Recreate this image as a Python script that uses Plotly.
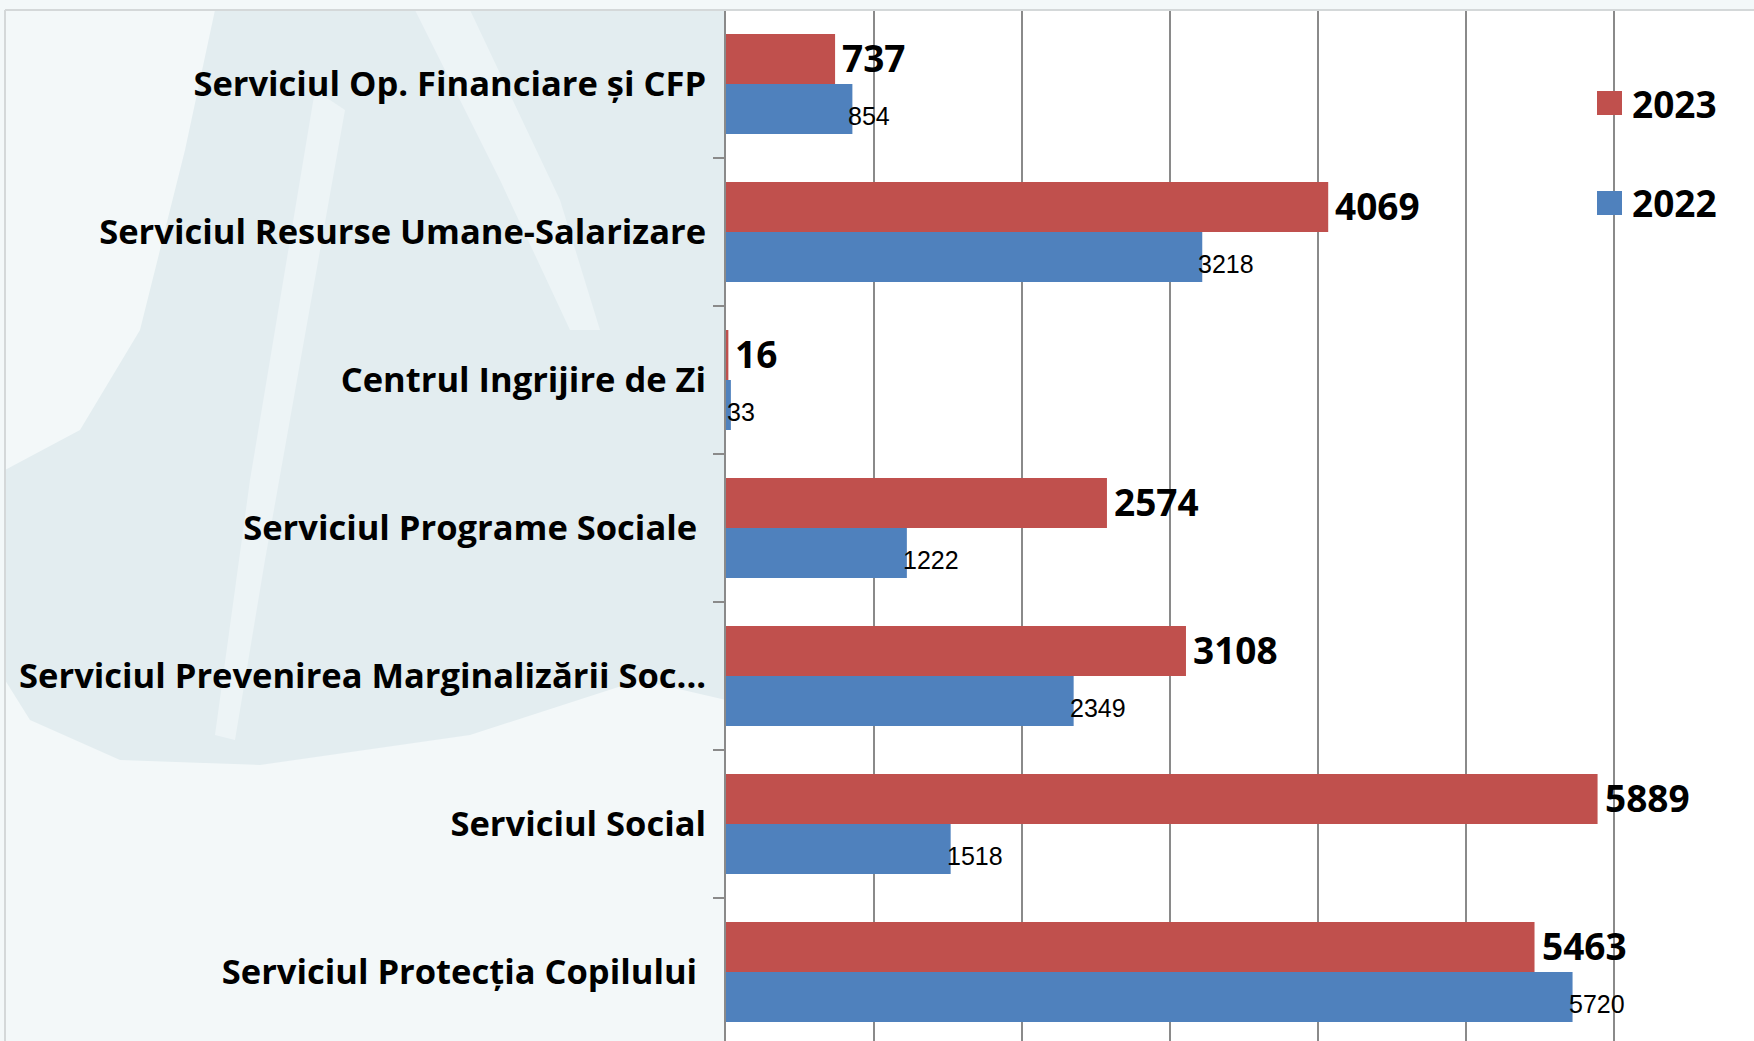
import plotly.graph_objects as go

categories = [
    "Serviciul Op. Financiare și CFP",
    "Serviciul Resurse Umane-Salarizare",
    "Centrul Ingrijire de Zi",
    "Serviciul Programe Sociale\u00a0",
    "Serviciul Prevenirea Marginalizării Soc...",
    "Serviciul Social",
    "Serviciul Protecția Copilului\u00a0",
]
values_2023 = [737, 4069, 16, 2574, 3108, 5889, 5463]
values_2022 = [854, 3218, 33, 1222, 2349, 1518, 5720]
series_names = ["2023", "2022"]

RED = "#C0504D"
BLUE = "#4F81BD"
GRID = "#8a8a8a"

W, H = 1754, 1041
L, R, T, B = 726, 0, 10, 0
PW, PH = W - L - R, H - T - B


def px_x(x):
    return (x - L) / PW


def px_y(y):
    return 1 - (y - T) / PH


def px_path(points):
    parts = []
    for i, (x, y) in enumerate(points):
        parts.append(("M" if i == 0 else "L") + f"{px_x(x):.5f},{px_y(y):.5f}")
    return " ".join(parts) + " Z"


fig = go.Figure()
fig.add_trace(go.Bar(
    y=categories, x=values_2023, name=series_names[0], orientation="h",
    marker=dict(color=RED, line=dict(width=0)), showlegend=False, hoverinfo="skip",
))
fig.add_trace(go.Bar(
    y=categories, x=values_2022, name=series_names[1], orientation="h",
    marker=dict(color=BLUE, line=dict(width=0)), showlegend=False, hoverinfo="skip",
))

annotations = []
for c, v in zip(categories, values_2023):
    annotations.append(dict(
        x=v, y=c, xref="x", yref="y", text=str(v), showarrow=False,
        xanchor="left", yanchor="middle", xshift=5, yshift=27,
        font=dict(family="Open Sans", size=37, color="black", weight="bold"),
    ))
for c, v in zip(categories, values_2022):
    annotations.append(dict(
        x=v, y=c, xref="x", yref="y", text=str(v), showarrow=False,
        xanchor="left", yanchor="middle", xshift=-6, yshift=-32,
        font=dict(family="Liberation Sans, Arial", size=25, color="black"),
    ))

shapes = []

# faint background watermark (decorative)
WM = "#e3edf0"
shapes.append(dict(type="path", xref="paper", yref="paper", layer="below",
                   path=px_path([(215, 10), (726, 10), (726, 700), (640, 680),
                                 (470, 735), (260, 765), (120, 760), (30, 720),
                                 (5, 680), (5, 470), (80, 430), (140, 330),
                                 (185, 150)]),
                   fillcolor=WM, line=dict(width=0)))
# lighter streaks inside the watermark
LT = "#edf4f6"
shapes.append(dict(type="path", xref="paper", yref="paper", layer="below",
                   path=px_path([(315, 90), (345, 110), (265, 560), (235, 740),
                                 (215, 735), (250, 480)]),
                   fillcolor=LT, line=dict(width=0)))
shapes.append(dict(type="path", xref="paper", yref="paper", layer="below",
                   path=px_path([(415, 10), (470, 10), (560, 200), (600, 330),
                                 (570, 330), (500, 180)]),
                   fillcolor=LT, line=dict(width=0)))

# legend drawn manually (large square swatches)
legend_items = [(series_names[0], RED, 103), (series_names[1], BLUE, 203)]
for name, col, yc in legend_items:
    shapes.append(dict(
        type="rect", xref="paper", yref="paper",
        x0=px_x(1597), x1=px_x(1622), y0=px_y(yc - 12), y1=px_y(yc + 12),
        fillcolor=col, line=dict(width=0), layer="above",
    ))
    annotations.append(dict(
        x=px_x(1630), y=px_y(yc), xref="paper", yref="paper", text=name,
        showarrow=False, xanchor="left", yanchor="middle",
        font=dict(family="Open Sans", size=37, color="black", weight="bold"),
    ))

# chart-area border (top and left)
shapes.append(dict(type="line", xref="paper", yref="paper",
                   x0=px_x(5), x1=px_x(W), y0=px_y(10), y1=px_y(10),
                   line=dict(color="#d4d8d9", width=2), layer="above"))
shapes.append(dict(type="line", xref="paper", yref="paper",
                   x0=px_x(5), x1=px_x(5), y0=px_y(10), y1=px_y(H),
                   line=dict(color="#d4d8d9", width=2), layer="above"))

fig.update_layout(
    width=W, height=H,
    margin=dict(l=L, r=R, t=T, b=B, pad=0, autoexpand=False),
    paper_bgcolor="#f3f8f9",
    plot_bgcolor="white",
    barmode="group",
    bargap=0.324,
    bargroupgap=0,
    showlegend=False,
    annotations=annotations,
    shapes=shapes,
    xaxis=dict(
        range=[0, (PW / 148) * 1000], dtick=1000, tick0=0,
        showgrid=True, gridcolor=GRID, gridwidth=1.5,
        showticklabels=False, zeroline=False, showline=False, ticks="",
        fixedrange=True, automargin=False,
    ),
    yaxis=dict(
        type="category", categoryorder="array", categoryarray=categories,
        range=[-0.5 + PH / 148, -0.5],
        showline=True, linecolor=GRID, linewidth=2,
        ticks="outside", ticklen=11, tickwidth=2, tickcolor=GRID,
        tickson="boundaries", showgrid=False,
        tickfont=dict(family="Open Sans", size=34.5, color="black", weight="bold"),
        ticklabelstandoff=11,
        fixedrange=True, automargin=False,
    ),
)

fig.write_html(
    "out.html",
    config=dict(displayModeBar=False),
    post_script="document.body.style.margin='0';document.body.style.overflow='hidden';",
)
